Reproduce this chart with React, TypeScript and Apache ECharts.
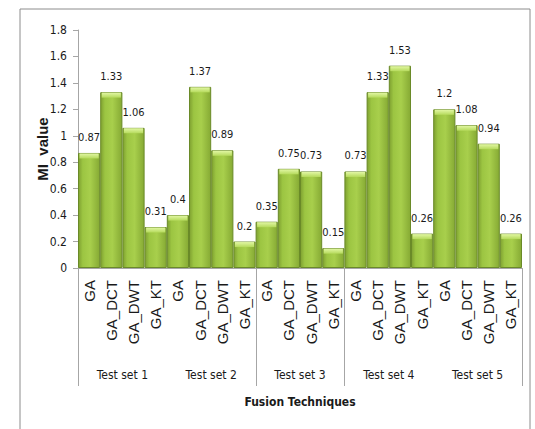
import React, { useEffect, useRef } from "react";
import * as echarts from "echarts";

// MI value for each fusion technique, one array per test set
const testSets = ["Test set 1", "Test set 2", "Test set 3", "Test set 4", "Test set 5"];
const techniques = ["GA", "GA_DCT", "GA_DWT", "GA_KT"];
const set1 = [0.87, 1.33, 1.06, 0.31];
const set2 = [0.4, 1.37, 0.89, 0.2];
const set3 = [0.35, 0.75, 0.73, 0.15];
const set4 = [0.73, 1.33, 1.53, 0.26];
const set5 = [1.2, 1.08, 0.94, 0.26];
const setValues = [set1, set2, set3, set4, set5];

// bar positions (in bar units) where the category bracket lines fall
const groupBoundaries = [0, 8, 12, 20];

const yMin = 0;
const yMax = 1.8;
const yStep = 0.2;

const NARROW = '"DejaVu Sans Condensed", "Liberation Sans", sans-serif';
const SANS = '"Liberation Sans", Arial, sans-serif';

export default function App() {
  const ref = useRef<HTMLDivElement>(null);

  useEffect(() => {
    document.body.style.margin = "0";
    if (!ref.current) return;
    const chart = echarts.init(ref.current, null, { renderer: "svg" });

    const barLabels: string[] = [];
    const barValues: number[] = [];
    setValues.forEach((vals) => {
      vals.forEach((v, j) => {
        barLabels.push(techniques[j]);
        barValues.push(v);
      });
    });

    const barFill = new echarts.graphic.LinearGradient(0, 0, 1, 0, [
      { offset: 0, color: "#7FA131" },
      { offset: 0.2, color: "#9CC542" },
      { offset: 0.55, color: "#A8CF4C" },
      { offset: 1, color: "#86AA34" },
    ]);

    chart.setOption({
      animation: false,
      backgroundColor: "#FFFFFF",
      grid: { left: 78, right: 13, top: 30, bottom: 161, containLabel: false },
      graphic: [
        {
          type: "rect",
          shape: { x: 20, y: 9, width: 510, height: 440 },
          style: { fill: "none", stroke: "#8C8C8C", lineWidth: 1 },
          silent: true,
        },
      ],
      xAxis: [
        {
          type: "category",
          data: barLabels,
          position: "bottom",
          axisLine: { show: true, lineStyle: { color: "#A6A6A6", width: 1 } },
          axisTick: { show: false },
          axisLabel: {
            interval: 0,
            rotate: 90,
            margin: 12,
            fontSize: 15,
            fontFamily: SANS,
            color: "#1A1A1A",
          },
        },
        {
          type: "category",
          data: testSets,
          position: "bottom",
          axisLine: { show: false },
          axisTick: { show: false },
          axisLabel: {
            interval: 0,
            margin: 101,
            fontSize: 12,
            fontFamily: NARROW,
            color: "#1A1A1A",
          },
          name: "Fusion Techniques",
          nameLocation: "middle",
          nameGap: 128,
          nameMoveOverlap: false,
          nameTextStyle: {
            fontSize: 12,
            fontWeight: "bold",
            fontFamily: NARROW,
            color: "#1A1A1A",
          },
        },
      ],
      yAxis: {
        type: "value",
        min: yMin,
        max: yMax,
        interval: yStep,
        name: "MI  value",
        nameLocation: "middle",
        nameGap: 28,
        nameMoveOverlap: false,
        nameTextStyle: {
          fontSize: 15,
          fontWeight: "bold",
          fontFamily: SANS,
          color: "#1A1A1A",
        },
        axisLine: { show: true, lineStyle: { color: "#A6A6A6" } },
        axisTick: { show: true, length: 5, lineStyle: { color: "#A6A6A6" } },
        splitLine: { show: false },
        axisLabel: {
          margin: 11,
          fontSize: 12,
          fontFamily: NARROW,
          color: "#1A1A1A",
        },
      },
      series: [
        {
          type: "bar",
          xAxisIndex: 0,
          data: barValues,
          barCategoryGap: 0,
          itemStyle: {
            color: barFill,
            borderColor: "#6A8A28",
            borderWidth: 1,
          },
          label: {
            show: true,
            position: "top",
            distance: 10,
            fontSize: 11,
            fontFamily: NARROW,
            color: "#1A1A1A",
          },
          z: 2,
        },
        {
          // light bevel along the top of each bar
          type: "custom",
          xAxisIndex: 0,
          data: barValues.map((v, i) => [i, v]),
          encode: { x: 0, y: 1 },
          silent: true,
          z: 3,
          renderItem: (_params: any, api: any) => {
            const top = api.coord([api.value(0), api.value(1)]);
            const bw = api.size([1, 0])[0];
            return {
              type: "rect",
              shape: { x: top[0] - bw / 2 + 1.5, y: top[1] + 0.5, width: bw - 3, height: 5 },
              style: {
                fill: new echarts.graphic.LinearGradient(0, 0, 0, 1, [
                  { offset: 0, color: "#E2F7A4" },
                  { offset: 1, color: "#B5DA5C" },
                ]),
              },
            };
          },
        },
        {
          // bracket lines separating the category groups below the axis
          type: "custom",
          xAxisIndex: 0,
          data: groupBoundaries.map((b) => [b, 0]),
          encode: { x: 0, y: 1 },
          clip: false,
          silent: true,
          renderItem: (_params: any, api: any) => {
            const origin = api.coord([0, 0]);
            const bw = api.size([1, 0])[0];
            const x = Math.round(origin[0] - bw / 2 + api.value(0) * bw) + 0.5;
            return {
              type: "line",
              shape: { x1: x, y1: origin[1], x2: x, y2: origin[1] + 118 },
              style: { stroke: "#A6A6A6", lineWidth: 1 },
            };
          },
        },
      ],
    });

    return () => chart.dispose();
  }, []);

  return <div ref={ref} style={{ width: 535, height: 429 }} />;
}
